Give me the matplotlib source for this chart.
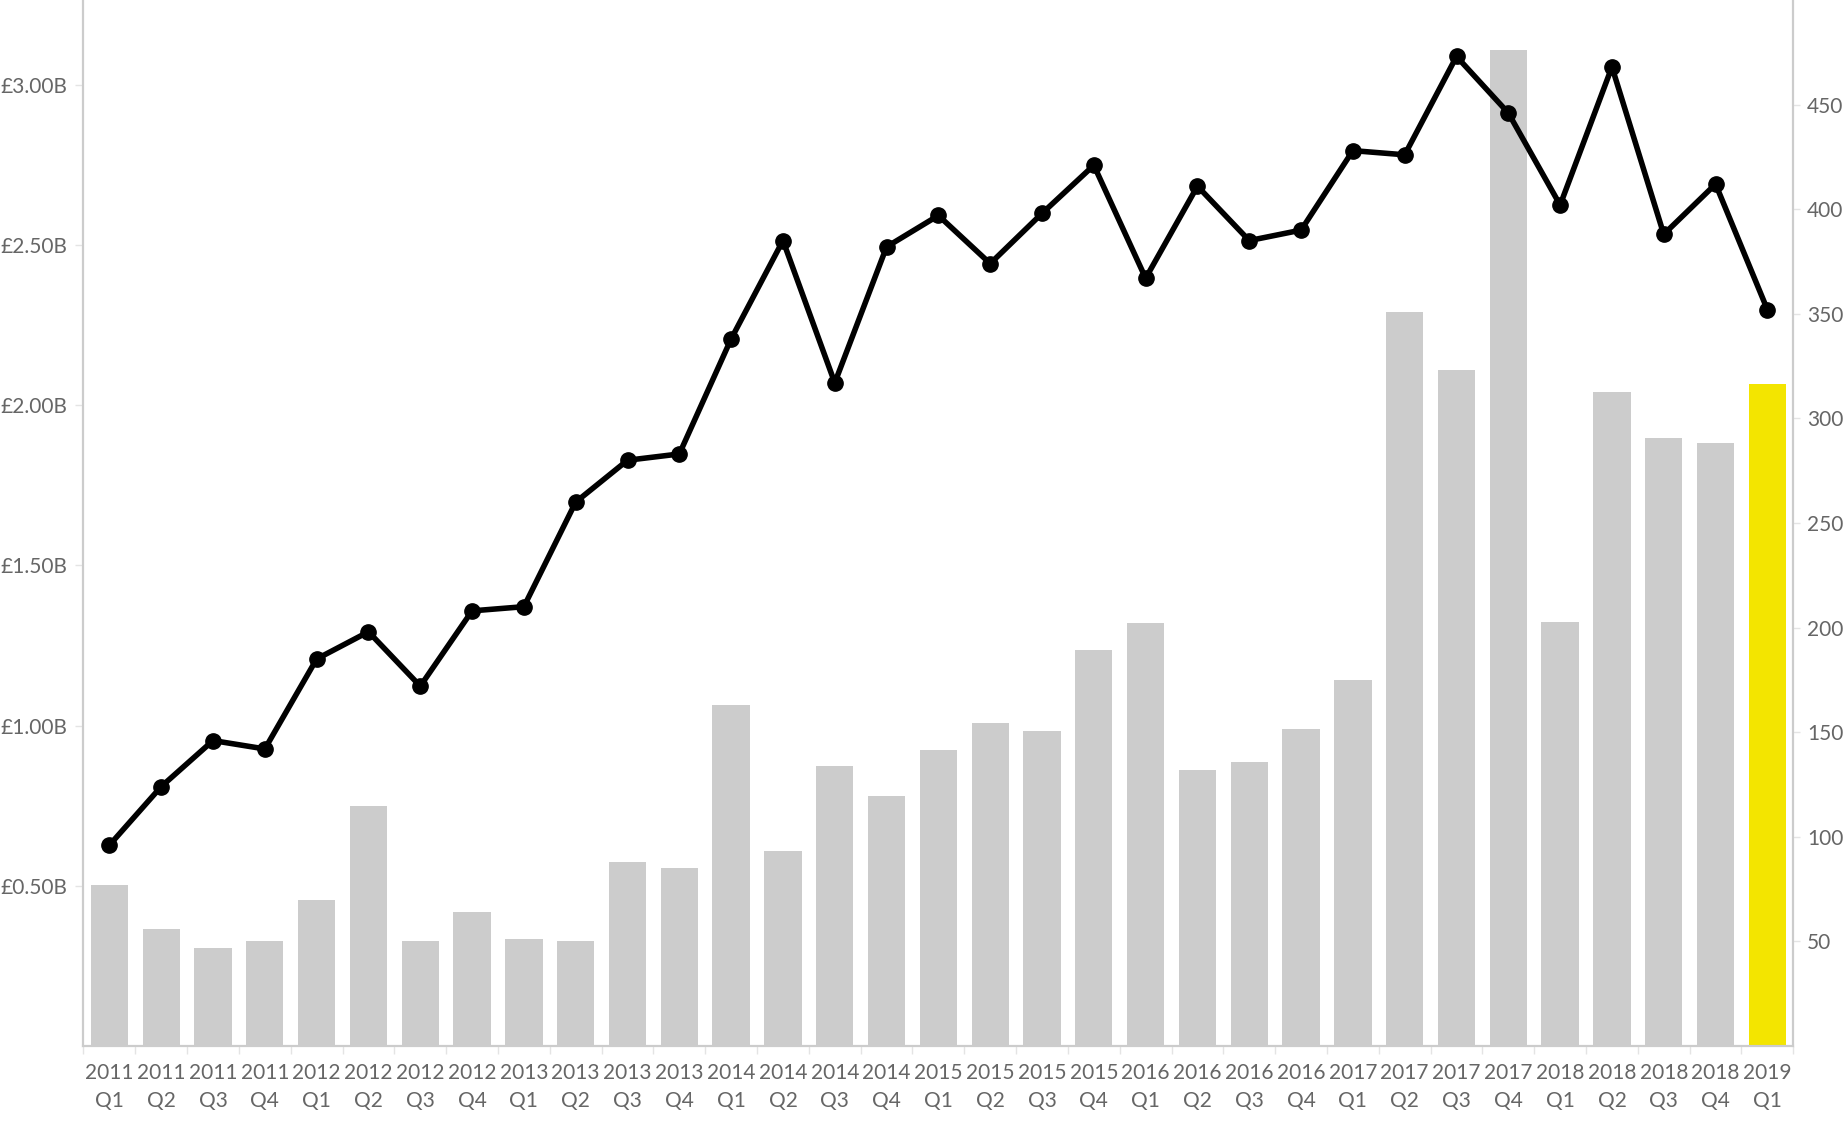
import matplotlib
matplotlib.use("Agg")
import matplotlib.pyplot as plt
from matplotlib.ticker import FuncFormatter, FixedLocator

plt.rcParams["font.family"] = ["Lato", "DejaVu Sans"]

# quarters 2011 Q1 .. 2019 Q1
years = ["2011"] * 4 + ["2012"] * 4 + ["2013"] * 4 + ["2014"] * 4 + ["2015"] * 4 + \
        ["2016"] * 4 + ["2017"] * 4 + ["2018"] * 4 + ["2019"]
quarters = ["Q1", "Q2", "Q3", "Q4"] * 8 + ["Q1"]
labels = [f"{y}\n{q}" for y, q in zip(years, quarters)]

# investment value, £ billions (bars, left axis)
invest_bn = [0.504, 0.364, 0.305, 0.327, 0.456, 0.750, 0.327, 0.419,
             0.335, 0.327, 0.574, 0.555, 1.063, 0.610, 0.875, 0.779,
             0.923, 1.007, 0.982, 1.235, 1.320, 0.860, 0.886, 0.989,
             1.143, 2.290, 2.110, 3.110, 1.324, 2.040, 1.897, 1.882,
             2.066]

# number of deals (line, right axis)
deals = [96, 124, 146, 142, 185, 198, 172, 208,
         210, 260, 280, 283, 338, 385, 317, 382,
         397, 374, 398, 421, 367, 411, 385, 390,
         428, 426, 473, 446, 402, 468, 388, 412,
         352]

GREY = "#cccccc"
YELLOW = "#f3e500"
TEXT = "#666666"

x = list(range(len(labels)))
bar_colors = [GREY] * (len(x) - 1) + [YELLOW]

fig = plt.figure(figsize=(18.44, 11.24), dpi=100)
ax = fig.add_axes([0.045, 0.0694, 0.9275, 0.9306])
ax.bar(x, invest_bn, width=0.72, color=bar_colors, zorder=2)
ax.set_xlim(-0.51, 32.47)
ax.set_ylim(0, 3.265)
ax.yaxis.set_major_locator(FixedLocator([0.5, 1.0, 1.5, 2.0, 2.5, 3.0]))
ax.yaxis.set_major_formatter(FuncFormatter(lambda v, p: f"£{v:.2f}B"))

ax.set_xticks(x)
ax.set_xticklabels(labels, linespacing=1.55)
ax.set_xticks([i - 0.5 for i in x] + [x[-1] + 0.5], minor=True)
ax.tick_params(axis="x", which="major", length=0, pad=12, labelsize=15, labelcolor=TEXT)
ax.tick_params(axis="x", which="minor", length=6, width=1, color="#e4e4e4")
ax.tick_params(axis="y", length=6, width=1, color="#e4e4e4", pad=5, labelsize=15, labelcolor=TEXT)

ax2 = ax.twinx()
ax2.plot(x, deals, color="black", linewidth=4, marker="o", markersize=11, zorder=3)
ax2.set_ylim(0, 500)
ax2.yaxis.set_major_locator(FixedLocator([50, 100, 150, 200, 250, 300, 350, 400, 450]))
ax2.tick_params(axis="y", length=5, width=1, color="#e4e4e4", pad=5, labelsize=15, labelcolor=TEXT)

for a in (ax, ax2):
    a.spines["top"].set_visible(False)
    for s in ("left", "right", "bottom"):
        a.spines[s].set_color(GREY)
        a.spines[s].set_linewidth(1.5)

fig.savefig("out.png", dpi=100)
